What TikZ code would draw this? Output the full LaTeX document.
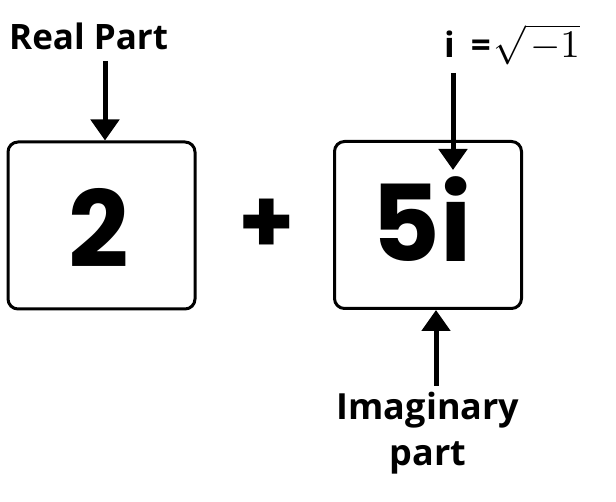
\documentclass[tikz,border=0pt]{standalone}
\usepackage{fontspec}
\setmainfont{Open Sans}
\newfontfamily\digitfont{Poppins}
\usetikzlibrary{arrows.meta}
\tikzset{
  valbox/.style={draw, line width=3pt, rounded corners=10pt, minimum width=187pt, minimum height=167pt, inner sep=0pt},
  pointer/.style={line width=5pt, -{Triangle[width=28pt,length=21pt]}},
  digits/.style={font=\digitfont\fontsize{106}{106}\selectfont\bfseries, inner sep=0pt},
  label/.style={font=\fontsize{35}{40}\selectfont\bfseries, inner sep=0pt},
}
\begin{document}
\begin{tikzpicture}[x=1pt,y=-1pt]
\useasboundingbox (0,0) rectangle (616,502);
\node[valbox] (b1) at (101.5,225.5) {};
\node[valbox] (b2) at (428,225) {};
\node[digits, anchor=base] (two) at (99,268) {2};
\node[digits, anchor=base] (five) at (422,262) {5i};
\node[font=\digitfont\fontsize{90}{90}\selectfont\bfseries] (plus) at (267,226) {+};
\node[label, anchor=base west] (real) at (9,50) {Real Part};
\node[label, anchor=base west] (ieq) at (444,58) {i\hspace{16pt}=};
\node[anchor=base west, inner sep=0pt] (sq) at ([xshift=2pt]ieq.base east) {\scalebox{3.9}{$\sqrt{\mkern2mu-1}$}};
\node[label, anchor=base, font=\fontsize{36}{40}\selectfont\bfseries] (imag) at (428,420) {Imaginary};
\node[label, anchor=base, font=\fontsize{36}{40}\selectfont\bfseries] (imag2) at (428,466) {part};
\coordinate (r1) at (105,61);
\coordinate (r2) at (453,73);
\coordinate (r3) at (436,386);
\coordinate (r2tip) at (453,170);
\draw[pointer] (r1) -- (r1 |- b1.north);
\draw[pointer] (r2) -- (r2tip);
\draw[pointer] (r3) -- (r3 |- b2.south);
\end{tikzpicture}
\end{document}
